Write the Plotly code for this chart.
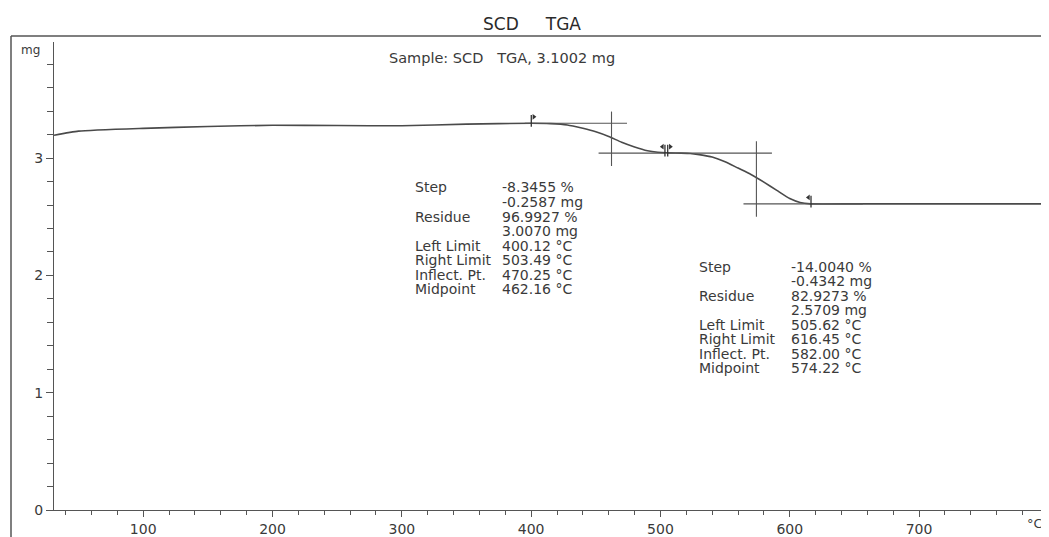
import plotly.graph_objects as go

# ---- data ----
temperature = [31, 50, 100, 150, 200, 250, 300, 350, 400, 415, 428, 440, 450, 460,
               470, 480, 490, 498, 505, 515, 523, 530, 540, 550, 560, 570, 580, 590,
               600, 608, 616, 650, 700, 750, 800]
mass_mg = [3.195, 3.23, 3.254, 3.27, 3.28, 3.278, 3.276, 3.29, 3.297, 3.294, 3.283,
           3.254, 3.225, 3.185, 3.135, 3.095, 3.063, 3.05, 3.045, 3.043, 3.04, 3.03,
           3.01, 2.97, 2.915, 2.86, 2.795, 2.725, 2.655, 2.622, 2.61, 2.61, 2.61, 2.61, 2.61]

x_ticks = [100, 200, 300, 400, 500, 600, 700]
y_ticks = [0, 1, 2, 3]

# step evaluation results
left_limit = [400.12, 505.62]
right_limit = [503.49, 616.45]
midpoint = [462.16, 574.22]
upper_level = [3.297, 3.043]
lower_level = [3.043, 2.61]

row_labels = ["Step", "", "Residue", "", "Left Limit", "Right Limit", "Inflect. Pt.", "Midpoint"]
step1_values = ["-8.3455 %", "-0.2587 mg", "96.9927 %", "3.0070 mg",
                "400.12 °C", "503.49 °C", "470.25 °C", "462.16 °C"]
step2_values = ["-14.0040 %", "-0.4342 mg", "82.9273 %", "2.5709 mg",
                "505.62 °C", "616.45 °C", "582.00 °C", "574.22 °C"]

title_text = "SCD&nbsp;&nbsp;&nbsp;&nbsp;&nbsp;TGA"
sample_text = "Sample: SCD&nbsp;&nbsp;&nbsp;TGA, 3.1002 mg"

# ---- figure (page has an 8px body margin; positions below are page pixels) ----
OFF = 8
W, H = 1049 - OFF, 537 - OFF
ML, MR, MT, MB = 54 - OFF, 0, 42 - OFF, 22
PW, PH = W - ML - MR, H - MT - MB


def px_x(p):
    return (p - OFF - ML) / PW


def px_y(p):
    return 1 - (p - OFF - MT) / PH


LINE = "#4a4a4a"
TXT = "#3a3a3a"
FONT = "DejaVu Sans"

fig = go.Figure()

fig.add_trace(go.Scatter(x=temperature, y=mass_mg, mode="lines",
                         line=dict(color=LINE, width=1.6, shape="spline", smoothing=0.5),
                         hoverinfo="skip", showlegend=False))

# evaluation construction lines
ex, ey = [], []
for i in range(2):
    m = midpoint[i]
    ex += [left_limit[i] - (5 if i == 0 else 0), m + 12, None]
    ey += [upper_level[i], upper_level[i], None]
    far = right_limit[i] if i == 0 else right_limit[i] + 40
    ex += [m - 10, far, None]
    ey += [lower_level[i], lower_level[i], None]
    ex += [m, m, None]
    ey += [upper_level[i] + 0.1, lower_level[i] - 0.11, None]
fig.add_trace(go.Scatter(x=ex, y=ey, mode="lines", line=dict(color="#555", width=1.1),
                         hoverinfo="skip", showlegend=False))

# limit flags
flag_x = [left_limit[0], right_limit[0], left_limit[1], right_limit[1]]
flag_lvl = [upper_level[0], lower_level[0], upper_level[1], lower_level[1]]
flag_dir = ["triangle-right", "triangle-left", "triangle-right", "triangle-left"]
sx, sy = [], []
for fx, fl in zip(flag_x, flag_lvl):
    sx += [fx, fx, None]
    sy += [fl - 0.03, fl + 0.07, None]
fig.add_trace(go.Scatter(x=sx, y=sy, mode="lines", line=dict(color="#333", width=1.3),
                         hoverinfo="skip", showlegend=False))
fig.add_trace(go.Scatter(x=[fx + (2 if d == "triangle-right" else -2) for fx, d in zip(flag_x, flag_dir)],
                         y=[fl + 0.055 for fl in flag_lvl], mode="markers",
                         marker=dict(symbol=flag_dir, size=5, color="#333"),
                         hoverinfo="skip", showlegend=False))

annotations = []
annotations.append(dict(text=title_text, x=px_x(532), y=px_y(24), xref="paper", yref="paper",
                        showarrow=False, xanchor="center", yanchor="middle",
                        font=dict(family=FONT, size=17, color="#2a2a2a")))
annotations.append(dict(text=sample_text, x=px_x(387), y=px_y(58), xref="paper", yref="paper",
                        showarrow=False, xanchor="left", yanchor="middle",
                        font=dict(family=FONT, size=14.5, color=TXT)))
annotations.append(dict(text="mg", x=px_x(19), y=px_y(50), xref="paper", yref="paper",
                        showarrow=False, xanchor="left", yanchor="middle",
                        font=dict(family=FONT, size=12, color=TXT)))
annotations.append(dict(text="°C", x=px_x(1045), y=px_y(529), xref="paper", yref="paper",
                        showarrow=False, xanchor="right", yanchor="middle",
                        font=dict(family=FONT, size=13, color=TXT)))

blocks = [(413, 500, 189, step1_values), (697, 789, 269, step2_values)]
for lx, vx, y0, vals in blocks:
    for k, (lab, val) in enumerate(zip(row_labels, vals)):
        yy = y0 + k * 14.7
        if lab:
            annotations.append(dict(text=lab, x=px_x(lx), y=px_y(yy), xref="paper", yref="paper",
                                    showarrow=False, xanchor="left", yanchor="middle",
                                    font=dict(family=FONT, size=14, color=TXT)))
        annotations.append(dict(text=val, x=px_x(vx), y=px_y(yy), xref="paper", yref="paper",
                                showarrow=False, xanchor="left", yanchor="middle",
                                font=dict(family=FONT, size=14, color=TXT)))

# frame
fx0 = px_x(11)
fy_top = px_y(36)
shapes = [
    dict(type="line", xref="paper", yref="paper", x0=fx0, x1=fx0, y0=px_y(545), y1=fy_top,
         line=dict(color="#555", width=1.5)),
    dict(type="line", xref="paper", yref="paper", x0=fx0, x1=1.01, y0=fy_top, y1=fy_top,
         line=dict(color="#555", width=1.5)),
]

fig.update_layout(
    width=W, height=H,
    margin=dict(l=ML, r=MR, t=MT, b=MB, pad=0),
    paper_bgcolor="white", plot_bgcolor="white",
    annotations=annotations, shapes=shapes,
    font=dict(family=FONT, color=TXT),
)
fig.update_xaxes(range=[31, 800.5], tickvals=x_ticks, ticks="outside", ticklen=6,
                 tickcolor="#555", showline=True, linecolor="#555", linewidth=1.3,
                 showgrid=False, zeroline=False, tickfont=dict(size=14, color=TXT),
                 minor=dict(dtick=20, tick0=0, ticks="outside", ticklen=4, tickcolor="#555"))
fig.update_yaxes(range=[0, 3.99], tickvals=y_ticks, ticks="outside", ticklen=7,
                 tickcolor="#555", showline=True, linecolor="#555", linewidth=1.3,
                 showgrid=False, zeroline=False, tickfont=dict(size=14, color=TXT),
                 minor=dict(dtick=0.2, tick0=0, ticks="outside", ticklen=6, tickcolor="#555"))

fig.write_html("out.html")
